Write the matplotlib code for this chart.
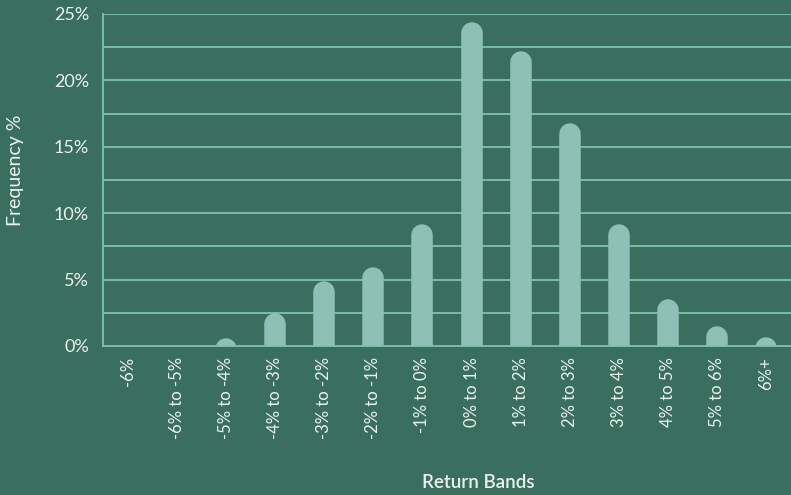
import matplotlib
matplotlib.use("Agg")
import matplotlib.pyplot as plt
import numpy as np

categories = ["-6%", "-6% to -5%", "-5% to -4%", "-4% to -3%", "-3% to -2%",
              "-2% to -1%", "-1% to 0%", "0% to 1%", "1% to 2%", "2% to 3%",
              "3% to 4%", "4% to 5%", "5% to 6%", "6%+"]
frequency = [0.0, 0.0, 0.55, 2.5, 4.9, 5.9, 9.2, 24.4, 22.2, 16.8, 9.2, 3.5, 1.45, 0.65]
yticks = [0, 5, 10, 15, 20, 25]
ytick_labels = ["0%", "5%", "10%", "15%", "20%", "25%"]

BG = "#3a6f60"
BAR = "#8fc0b5"
GRID = "#7ec3ad"
TXT = "#eaf2ee"

plt.rcParams['font.family'] = ['Lato', 'DejaVu Sans']

W, H, DPI = 791, 495, 100
fig = plt.figure(figsize=(W / DPI, H / DPI), dpi=DPI, facecolor=BG)
ax = fig.add_axes([103 / W, 1 - 346 / H, (W - 103) / W, (346 - 14) / H])
ax.set_facecolor(BG)
ax.set_xlim(-0.5, len(categories) - 0.5)
ax.set_ylim(0, 25)

for y in np.arange(2.5, 25.01, 2.5):
    ax.axhline(y, color=GRID, lw=1.3, zorder=1)

for s in ["top", "right"]:
    ax.spines[s].set_visible(False)
for s in ["left", "bottom"]:
    ax.spines[s].set_color(GRID)
    ax.spines[s].set_linewidth(1.3)

# rounded-top bars via thick lines with round caps
bar_px = 21.5
lw_pt = bar_px * 72 / DPI
ax_h_px = (346 - 14)
r_data = (bar_px / 2) * 25 / ax_h_px
x = np.arange(len(categories))
for xi, v in zip(x, frequency):
    if v <= 0:
        continue
    ax.plot([xi, xi], [-5, v - r_data], color=BAR, lw=lw_pt,
            solid_capstyle='round', zorder=3)

ax.set_xticks(x)
ax.set_xticklabels(categories, rotation=90, color=TXT, fontsize=12)
ax.set_yticks(yticks)
ax.set_yticklabels(ytick_labels, color=TXT, fontsize=13)
ax.tick_params(axis='both', length=0)
ax.tick_params(axis='y', pad=10)
ax.tick_params(axis='x', pad=8)

fig.text(16 / W, 1 - 170 / H, "Frequency %", color=TXT, fontsize=14,
         rotation=90, ha='center', va='center')
fig.text(478 / W, 1 - 482 / H, "Return Bands", color=TXT, fontsize=13.5,
         fontweight='semibold', ha='center', va='center')

fig.savefig("out.png", dpi=DPI, facecolor=BG)
